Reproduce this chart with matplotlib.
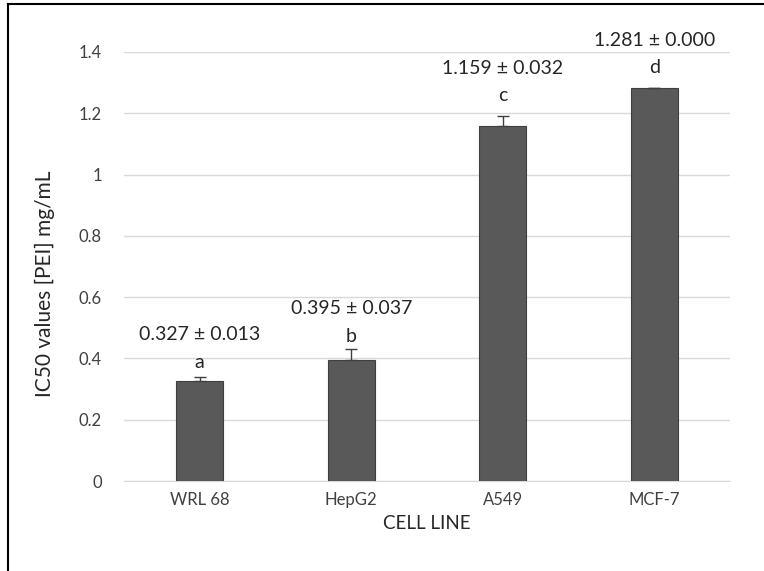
import numpy as np
import matplotlib.pyplot as plt
from matplotlib.lines import Line2D

# data
cell_lines = ["WRL 68", "HepG2", "A549", "MCF-7"]
ic50 = [0.327, 0.395, 1.159, 1.281]
ic50_err = [0.013, 0.037, 0.032, 0.000]
letters = ["a", "b", "c", "d"]

plt.rcParams['font.family'] = ['Lato', 'DejaVu Sans']

fig = plt.figure(figsize=(7.64, 5.71), dpi=100)
ax = fig.add_axes([0.1623, 0.1576, 0.7932, 0.7514])

x = np.arange(len(cell_lines))
ax.bar(x, ic50, width=0.31, color='#595959', edgecolor='#3f3f3f', linewidth=0.8, zorder=3)
ax.errorbar(x, ic50, yerr=[np.zeros(len(ic50)), ic50_err], fmt='none',
            ecolor='#404040', elinewidth=1.0, capsize=4, capthick=1.0, zorder=4)

# label heights above bar+error (hand placed in Excel)
letter_gap = [0.048, 0.041, 0.066, 0.067]
text_gap = 0.09
for i in range(len(x)):
    top = ic50[i] + ic50_err[i]
    ax.text(x[i], top + letter_gap[i], letters[i], ha='center', va='center',
            fontsize=14, color='#262626', clip_on=False)
    ax.text(x[i], top + letter_gap[i] + text_gap, "%.3f \u00b1 %.3f" % (ic50[i], ic50_err[i]),
            ha='center', va='center', fontsize=14, color='#262626', clip_on=False)

ax.set_xlim(-0.5, len(x) - 0.5)
ax.set_ylim(0, 1.4)
ax.set_yticks(np.arange(0, 1.41, 0.2))
ax.set_yticklabels(["0", "0.2", "0.4", "0.6", "0.8", "1", "1.2", "1.4"])
ax.set_xticks(x)
ax.set_xticklabels(cell_lines)
ax.tick_params(axis='both', length=0, labelsize=12, labelcolor='#404040')
ax.tick_params(axis='y', pad=16)
ax.tick_params(axis='x', pad=8)
ax.grid(axis='y', color='#d9d9d9', linewidth=1.0, zorder=0)
for s in ['top', 'right', 'left']:
    ax.spines[s].set_visible(False)
ax.spines['bottom'].set_color('#d9d9d9')

ax.set_ylabel("IC50 values [PEI] mg/mL", fontsize=15, color='#262626')
ax.yaxis.set_label_coords(-0.114, 0.46)
ax.set_xlabel("CELL LINE", fontsize=13.5, color='#262626', labelpad=5)

# outer frame (cut off on right and bottom in the source)
fig.add_artist(Line2D([8 / 764, 8 / 764], [0, 1 - 4 / 571], transform=fig.transFigure, color='black', linewidth=1.5))
fig.add_artist(Line2D([8 / 764, 1], [1 - 4 / 571, 1 - 4 / 571], transform=fig.transFigure, color='black', linewidth=1.5))

fig.savefig("out.png", dpi=100)
